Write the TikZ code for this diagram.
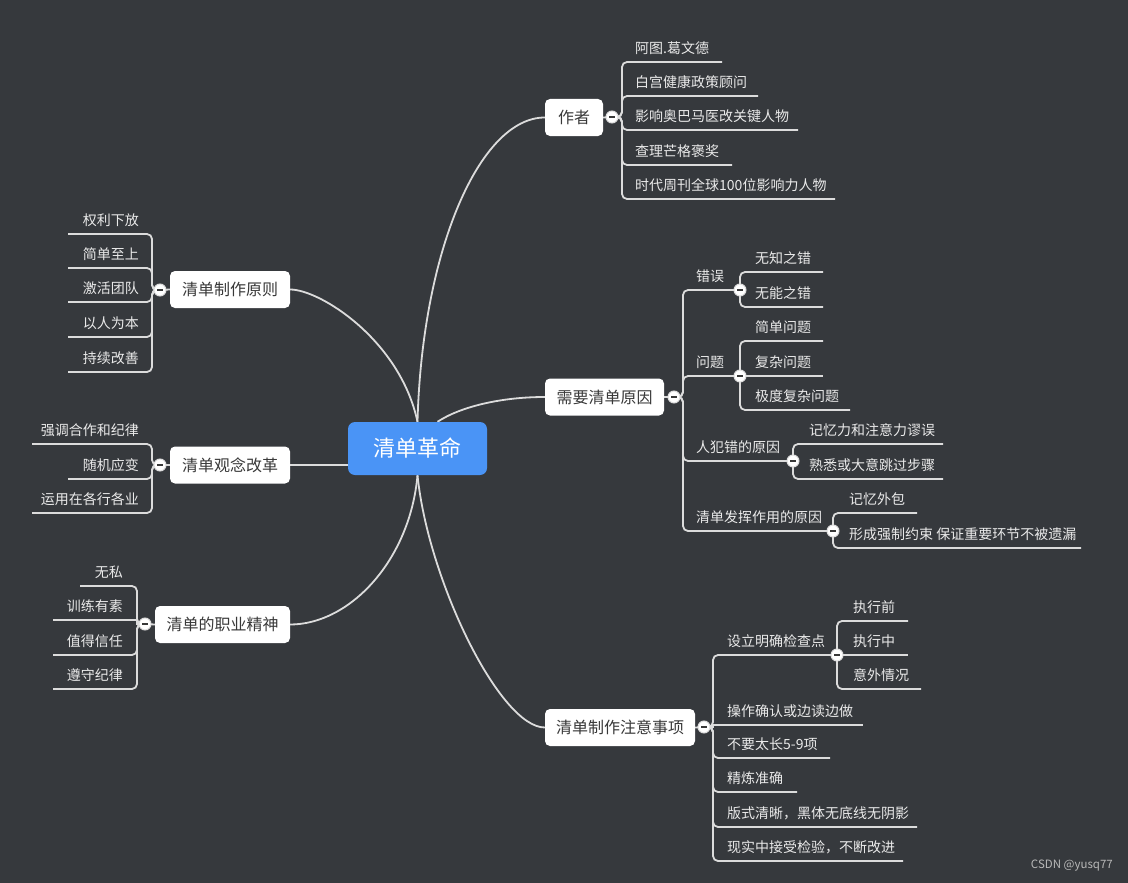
\documentclass[tikz,border=0pt]{standalone}
\usepackage{fontspec}
\setmainfont{Noto Sans CJK SC}
\pgfdeclarelayer{back}
\pgfdeclarelayer{lines}
\pgfsetlayers{back,lines,main}
\definecolor{bgc}{HTML}{36393D}
\definecolor{rootc}{HTML}{4A94F6}
\definecolor{linec}{HTML}{DCDCDC}
\definecolor{topictext}{HTML}{383838}
\definecolor{leaftext}{HTML}{EAEAEA}
\definecolor{wmc}{HTML}{B8B8B8}
\tikzset{
 root/.style={fill=rootc, rounded corners=7pt, text=white, font=\fontsize{22}{22}\selectfont, inner sep=0pt, minimum width=139pt, minimum height=53pt},
 topic/.style={fill=white, rounded corners=5pt, text=topictext, font=\fontsize{16}{16}\selectfont, inner sep=0pt, minimum height=37pt},
 leaf/.style={text=leaftext, font=\fontsize{14}{14}\selectfont, inner sep=0pt},
 conn/.style={draw=linec, line width=1.8pt},
 elbow/.style={conn, rounded corners=5pt},
 fold/.style={circle, fill=white, draw=linec, line width=1pt, minimum size=12pt, inner sep=0pt,
   path picture={\draw[topictext, line width=1.3pt] ([xshift=-3pt]path picture bounding box.center) -- ([xshift=3pt]path picture bounding box.center);}},
}
% group whose vertical runs at an offset from the fold circle
\newcommand\grpA[7]{%
  \foreach \ly/\xe/\t [count=\k] in {#7} {
    \node[leaf,anchor=#6] (#1\k) at (#5,\ly-13.5) {\t};
    \coordinate (#1e\k) at (\xe,\ly);
    \pgfmathsetmacro\dd{abs(\ly-#3)}
    \begin{pgfonlayer}{lines}
    \ifdim\dd pt<8pt
      \draw[conn] (#2.center) -- (#4,#3) -- (#4,\ly) -- (#1e\k);
    \else
      \draw[elbow] (#2.center) -- (#4,#3) -- (#4,\ly) -- (#1e\k);
    \fi
    \end{pgfonlayer}
  }}
% group whose vertical runs through the fold circle
\newcommand\grpB[7]{%
  \foreach \ly/\xe/\t [count=\k] in {#7} {
    \node[leaf,anchor=#6] (#1\k) at (#5,\ly-13.5) {\t};
    \coordinate (#1e\k) at (\xe,\ly);
    \pgfmathsetmacro\dd{abs(\ly-#3)}
    \begin{pgfonlayer}{lines}
    \ifdim\dd pt<1pt
      \draw[conn] (#2.center) -- (#1e\k);
    \else
      \draw[elbow] (#2.center) -- (#4,\ly) -- (#1e\k);
    \fi
    \end{pgfonlayer}
  }}
\begin{document}
\begin{tikzpicture}[x=1pt,y=-1pt]
\begin{pgfonlayer}{back}
\fill[bgc] (0,0) rectangle (1128,883);
\end{pgfonlayer}
\useasboundingbox (0,0) rectangle (1128,883);

\node[root] (root) at (417.5,448.5) {清单革命};
\node[topic, minimum width=58pt] (auth) at (574,117.5) {作者};
\node[topic, minimum width=119pt] (need) at (604.5,397) {需要清单原因};
\node[topic, minimum width=150pt] (note) at (620,727.5) {清单制作注意事项};
\node[topic, minimum width=120pt] (prin) at (230,289.5) {清单制作原则};
\node[topic, minimum width=120pt] (idea) at (230,465) {清单观念改革};
\node[topic, minimum width=135pt] (spir) at (222.5,624.5) {清单的职业精神};

\node[fold] (authf) at (612,117) {};
\node[fold] (needf) at (674,397) {};
\node[fold] (errf) at (740,290) {};
\node[fold] (probf) at (740,376) {};
\node[fold] (humf) at (793,461) {};
\node[fold] (workf) at (833,531) {};
\node[fold] (notef) at (704,727) {};
\node[fold] (chkf) at (837,655) {};
\node[fold] (prinf) at (160,290) {};
\node[fold] (ideaf) at (160,465) {};
\node[fold] (spirf) at (145,624) {};

\begin{pgfonlayer}{lines}
\draw[conn] (root.north) .. controls (422,250) and (480,117.5) .. (auth.west);
\draw[conn] (root.north) .. controls (400,340) and (320,289.5) .. (prin.east);
\draw[conn] ([xshift=20pt]root.north) .. controls (460,407) and (500,397) .. (need.west);
\draw[conn] (root.west |- idea.east) -- (idea.east);
\draw[conn] (root.south) .. controls (410,560) and (350,624.5) .. (spir.east);
\draw[conn] (root.south) .. controls (428,580) and (500,727.5) .. (note.west);
\draw[conn] (auth.east) -- (authf.center);
\draw[conn] (need.east) -- (needf.center);
\draw[conn] (note.east) -- (notef.center);
\draw[conn] (prin.west) -- (prinf.center);
\draw[conn] (idea.west) -- (ideaf.center);
\draw[conn] (spir.west) -- (spirf.center);
\end{pgfonlayer}

\grpA{a}{authf}{117}{622}{635}{west}{62/722/阿图.葛文德, 96/758/白宫健康政策顾问, 130/798/影响奥巴马医改关键人物, 165/732/查理芒格褒奖, 199/835/时代周刊全球100位影响力人物}
\grpA{n}{needf}{397}{683}{696}{west}{290/740/错误, 376/740/问题, 461/793/人犯错的原因, 531/833/清单发挥作用的原因}
\grpB{e}{errf}{290}{740}{755}{west}{272/823/无知之错, 307/823/无能之错}
\grpB{p}{probf}{376}{740}{755}{west}{341/823/简单问题, 376/823/复杂问题, 410/850/极度复杂问题}
\grpB{h}{humf}{461}{793}{809}{west}{444/943/记忆力和注意力谬误, 479/943/熟悉或大意跳过步骤}
\grpB{w}{workf}{531}{833}{849}{west}{513/917/记忆外包, 548/1081/形成强制约束 保证重要环节不被遗漏}
\grpA{t}{notef}{727}{713}{727}{west}{655/837/设立明确检查点, 725/863/操作确认或边读边做, 758/830/不要太长5-9项, 792/797/精炼准确, 827/917/版式清晰，黑体无底线无阴影, 861/903/现实中接受检验，不断改进}
\grpB{c}{chkf}{655}{837}{853}{west}{621/908/执行前, 655/908/执行中, 689/921/意外情况}
\grpA{r}{prinf}{290}{152}{139}{east}{234/68/权利下放, 268/68/简单至上, 302/68/激活团队, 337/68/以人为本, 372/68/持续改善}
\grpA{i}{ideaf}{465}{152}{139}{east}{444/32/强调合作和纪律, 479/68/随机应变, 513/32/运用在各行各业}
\grpA{s}{spirf}{624}{137}{123}{east}{586/80/无私, 620/53/训练有素, 655/53/值得信任, 689/53/遵守纪律}

\node[text=wmc, font=\fontsize{11.5}{12}\selectfont, anchor=east, inner sep=0pt] (wm) at (1113,866) {CSDN @yusq77};
\end{tikzpicture}
\end{document}
